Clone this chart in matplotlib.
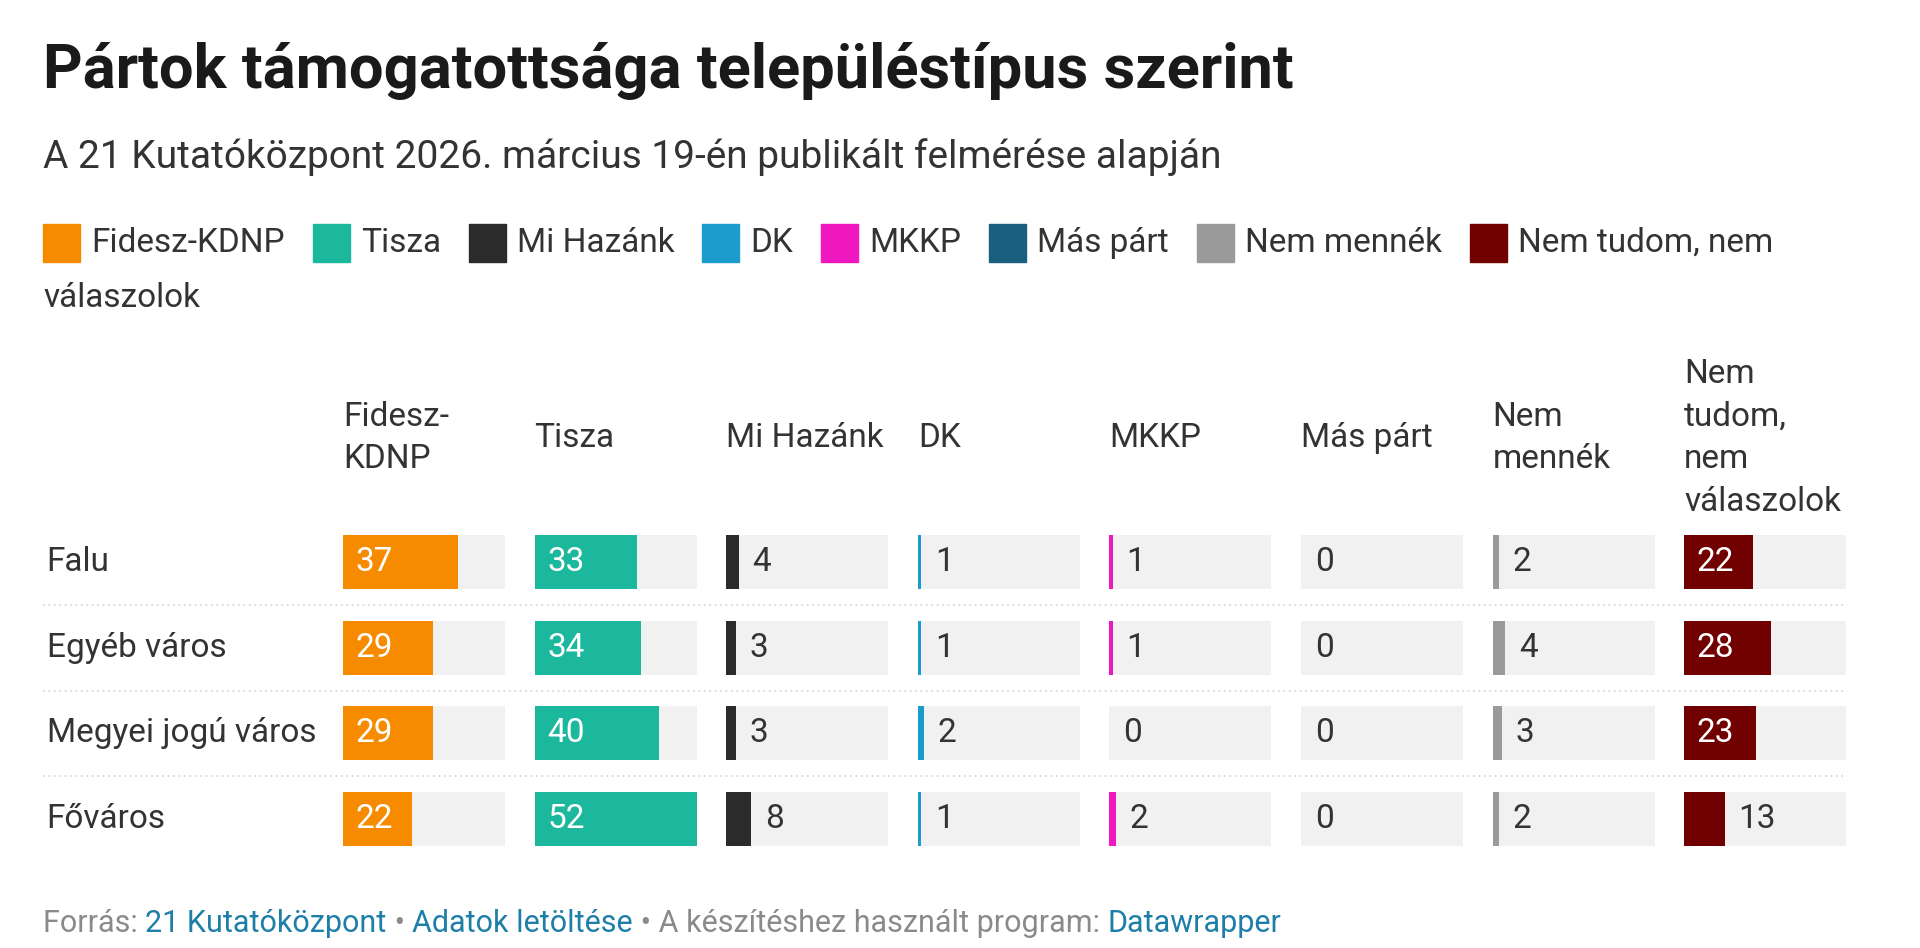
import matplotlib
matplotlib.use("Agg")
import matplotlib.pyplot as plt
from matplotlib.patches import Rectangle

plt.rcParams['font.family'] = ['Roboto', 'DejaVu Sans']

# data
places = ["Falu", "Egyéb város", "Megyei jogú város", "Főváros"]
parties = ["Fidesz-KDNP", "Tisza", "Mi Hazánk", "DK", "MKKP", "Más párt",
           "Nem mennék", "Nem tudom, nem válaszolok"]
headers = ["Fidesz-\nKDNP", "Tisza", "Mi Hazánk", "DK", "MKKP", "Más párt",
           "Nem\nmennék", "Nem\ntudom,\nnem\nválaszolok"]
colors = ["#f78b00", "#1bb89d", "#2b2b2b", "#1c9ccc", "#ef17bf", "#1b5f80",
          "#9a9a9a", "#710000"]
fidesz = [37, 29, 29, 22]
tisza = [33, 34, 40, 52]
mi_hazank = [4, 3, 3, 8]
dk = [1, 1, 2, 1]
mkkp = [1, 1, 0, 2]
mas_part = [0, 0, 0, 0]
nem_mennek = [2, 4, 3, 2]
nem_tudom = [22, 28, 23, 13]
series = [fidesz, tisza, mi_hazank, dk, mkkp, mas_part, nem_mennek, nem_tudom]

W, H = 1920, 948
fig = plt.figure(figsize=(W / 100, H / 100), dpi=100)
fig.patch.set_facecolor("white")
rend = fig.canvas.get_renderer()

def fx(px):
    return px / W

def fy(py):
    return 1 - py / H

TXT = "#333333"
FS = 24

fig.text(fx(43), fy(88), "Pártok támogatottsága településtípus szerint",
         fontsize=44.3, fontweight="bold", color="#1a1a1a", va="baseline")
fig.text(fx(43), fy(168), "A 21 Kutatóközpont 2026. március 19-én publikált felmérése alapján",
         fontsize=28, color=TXT, va="baseline")

def text_width(s, size):
    t = fig.text(0, 0, s, fontsize=size)
    w = t.get_window_extent(rend).width
    t.remove()
    return w

# legend, flowing like the web version
x, y = 43, 243
sq = 37
gap = 11
right_limit = 1877
for name, c in zip(parties, colors):
    words = name.split(" ")
    w = text_width(name, FS)
    fig.patches.append(Rectangle((fx(x), fy(y + sq / 2)), sq / W, sq / H,
                                 transform=fig.transFigure, color=c))
    if x + sq + gap + w > right_limit:
        # wrap the words that do not fit onto the next line
        k = len(words)
        while k > 1 and x + sq + gap + text_width(" ".join(words[:k]), FS) > right_limit:
            k -= 1
        fig.text(fx(x + sq + gap), fy(y), " ".join(words[:k]), fontsize=FS, color=TXT, va="center")
        fig.text(fx(43), fy(y + 55), " ".join(words[k:]), fontsize=FS, color=TXT, va="center")
        break
    fig.text(fx(x + sq + gap), fy(y), name, fontsize=FS, color=TXT, va="center")
    x = x + sq + gap + w + 28

# table area
top, bottom = 519, 862
base = fig.add_axes([fx(43), fy(bottom), fx(1847) - fx(43), (bottom - top) / H])
base.set_xlim(0, 1)
base.set_ylim(len(places) - 0.5, -0.5)
base.axis("off")
for i in range(len(places) - 1):
    base.axhline(i + 0.5, color="#d9d9d9", lw=1.3, ls=(0, (1, 2)))
for i, p in enumerate(places):
    base.text(0.002, i, p, fontsize=FS, color=TXT, va="center", ha="left")

vmax = max(max(s) for s in series)
col_w = 162
for j, (vals, c, hdr) in enumerate(zip(series, colors, headers)):
    left = 343 + j * 191.6
    ax = fig.add_axes([fx(left), fy(bottom), col_w / W, (bottom - top) / H])
    ax.set_xlim(0, vmax)
    ax.set_ylim(len(places) - 0.5, -0.5)
    ax.axis("off")
    ys = list(range(len(places)))
    ax.barh(ys, [vmax] * len(places), height=0.63, color="#f1f1f1")
    ax.barh(ys, vals, height=0.63, color=c)
    for i, v in enumerate(vals):
        if v >= 16:
            ax.annotate(str(v), (0, i), xytext=(9, 0), textcoords="offset points",
                        fontsize=FS, color="white", va="center", ha="left")
        else:
            ax.annotate(str(v), (v, i), xytext=(10, 0), textcoords="offset points",
                        fontsize=FS, color=TXT, va="center", ha="left")
    fig.text(fx(left), fy(438), hdr, fontsize=FS, color=TXT, va="center", ha="left",
             linespacing=1.42)

# footer
GRAY = "#8a8a8a"
BLUE = "#1d7fa8"
pieces = [("Forrás: ", GRAY), ("21 Kutatóközpont", BLUE), (" • ", GRAY),
          ("Adatok letöltése", BLUE), (" • A készítéshez használt program: ", GRAY),
          ("Datawrapper", BLUE)]
x = 43
for s, c in pieces:
    t = fig.text(fx(x), fy(923), s, fontsize=22, color=c, va="center", ha="left")
    x += t.get_window_extent(rend).width

fig.savefig("out.png", dpi=100)
